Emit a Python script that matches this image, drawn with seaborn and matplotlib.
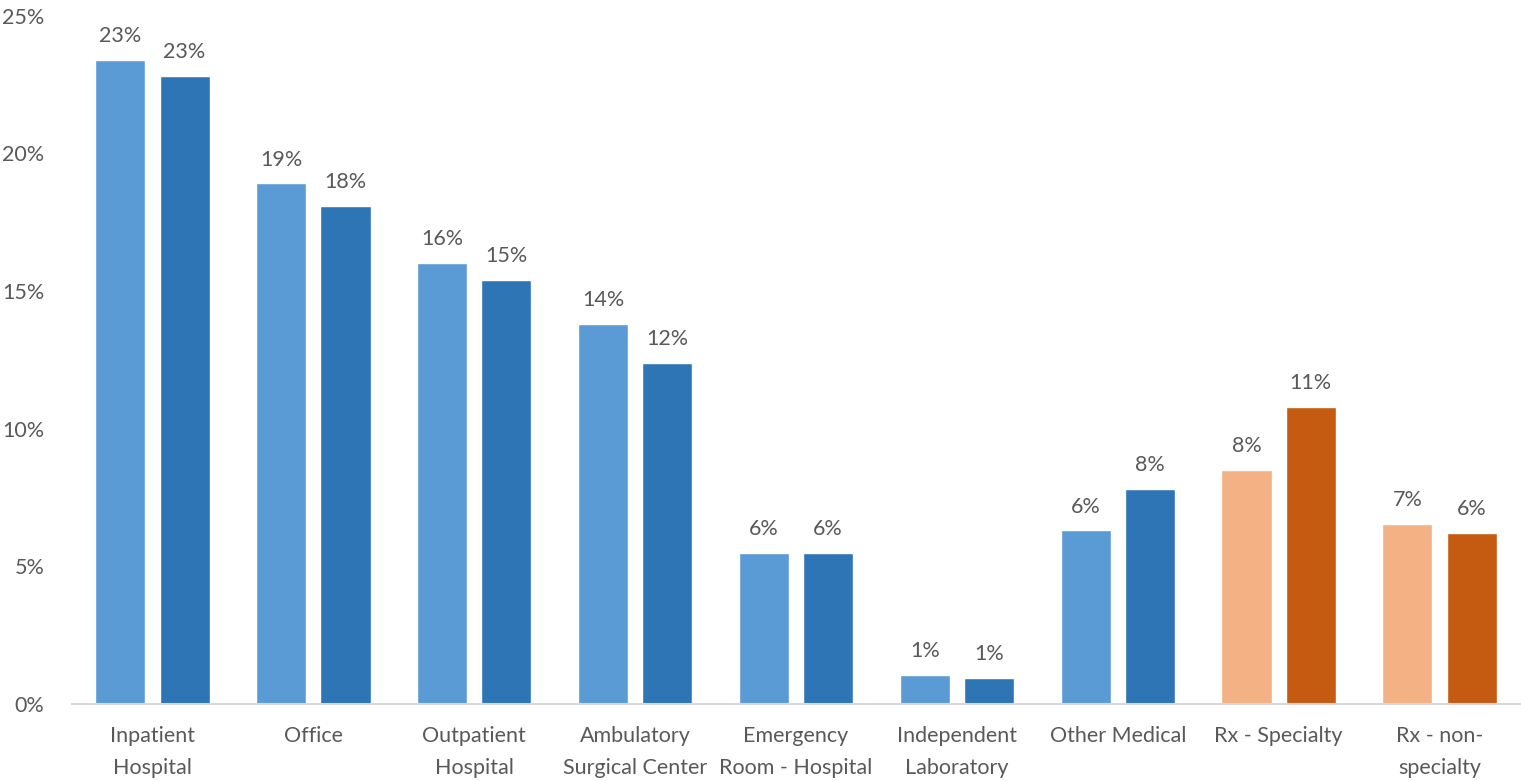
import pandas as pd
import matplotlib
matplotlib.use("Agg")
import matplotlib.pyplot as plt
import seaborn as sns

# ------ DATA ------
categories = ["Inpatient\nHospital", "Office", "Outpatient\nHospital",
              "Ambulatory\nSurgical Center", "Emergency\nRoom - Hospital",
              "Independent\nLaboratory", "Other Medical", "Rx - Specialty",
              "Rx - non-\nspecialty"]
periods = ["Period 1", "Period 2"]
share_first = [23.4, 18.9, 16.0, 13.8, 5.5, 1.05, 6.3, 8.5, 6.55]
share_second = [22.8, 18.1, 15.4, 12.4, 5.5, 0.95, 7.8, 10.8, 6.2]
rx_categories = ["Rx - Specialty", "Rx - non-\nspecialty"]

df = pd.DataFrame({
    "Category": categories * 2,
    "Period": [periods[0]] * len(categories) + [periods[1]] * len(categories),
    "Share": share_first + share_second,
})

blue_light, blue_dark = "#5B9BD5", "#2E75B6"
orange_light, orange_dark = "#F4B183", "#C55A11"
text_grey = "#595959"

# ------ CHART ------
sns.set_style("white")
plt.rcParams["font.family"] = ["Lato", "DejaVu Sans"]

fig = plt.figure(figsize=(15.21, 7.81), dpi=100)
ax = fig.add_axes([72 / 1521, 77 / 781, 1448 / 1521, 688.5 / 781])

sns.barplot(data=df, x="Category", y="Share", hue="Period",
            hue_order=periods, order=categories,
            palette=[blue_light, blue_dark], width=0.8, gap=0.22,
            saturation=1, legend=False, ax=ax)

# recolour the Rx bars in orange
for cont, col in zip(ax.containers, [orange_light, orange_dark]):
    for cat, bar in zip(categories, cont):
        if cat in rx_categories:
            bar.set_facecolor(col)

for cont in ax.containers:
    ax.bar_label(cont, labels=[f"{v:.0f}%" for v in cont.datavalues],
                 padding=10, fontsize=15.5, color=text_grey)

ax.set_ylim(0, 25)
ax.set_xlim(-0.5, len(categories) - 0.5)
ax.set_yticks(range(0, 26, 5))
ax.set_yticklabels([f"{t}%" for t in range(0, 26, 5)])
ax.set_xlabel("")
ax.set_ylabel("")

for side in ["top", "right", "left"]:
    ax.spines[side].set_visible(False)
ax.spines["bottom"].set_color("#D9D9D9")
ax.spines["bottom"].set_linewidth(1.5)

ax.tick_params(axis="y", length=0, pad=20, labelsize=15.5, labelcolor=text_grey)
ax.tick_params(axis="x", length=0, pad=16, labelsize=15.5, labelcolor=text_grey)
for lbl in ax.get_xticklabels():
    lbl.set_linespacing(1.75)
    lbl.set_verticalalignment("top")

fig.savefig("out.png", dpi=100)
